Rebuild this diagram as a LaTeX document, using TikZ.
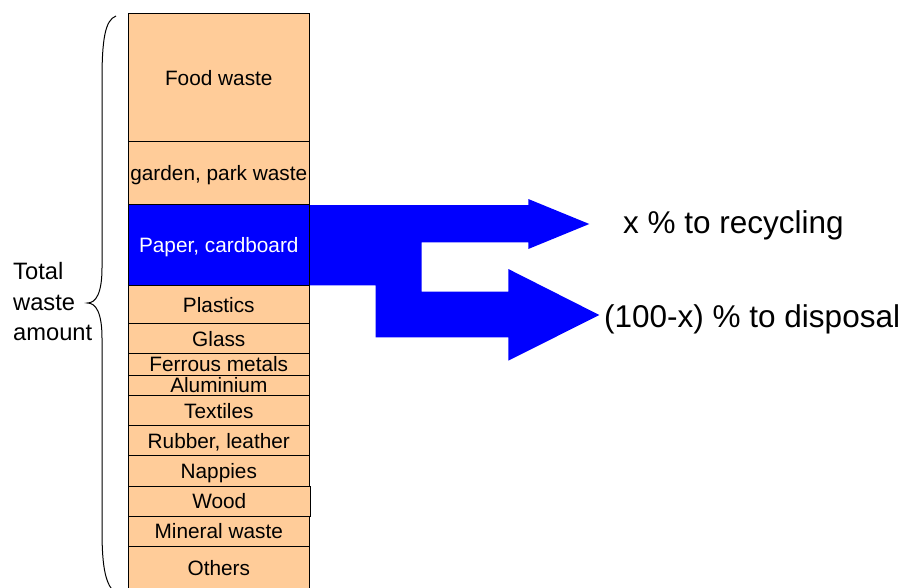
\documentclass[tikz,border=0pt]{standalone}
\usepackage{fontspec}
\setmainfont{Liberation Sans}
\definecolor{peach}{RGB}{255,204,153}
\definecolor{flowblue}{RGB}{0,0,255}
\begin{document}
\begin{tikzpicture}[x=1pt,y=-1pt,
  box/.style={draw=black, line width=0.9pt, fill=peach, minimum width=181pt,
    inner sep=0pt, outer sep=0pt, font=\fontsize{20.8}{24}\selectfont,
    text height=15.5pt, text depth=0pt},
  bluebox/.style={box, fill=flowblue, text=white},
  bigtext/.style={inner sep=0pt, anchor=base west, font=\fontsize{31.5}{36}\selectfont},
  sidetext/.style={inner sep=0pt, anchor=base west, font=\fontsize{23.7}{28}\selectfont}]
\useasboundingbox (0,0) rectangle (904,588);
% flow arrows
\fill[flowblue] (309,205) -- (528.3,205) -- (528.3,199) -- (589.3,224) -- (528.3,249)
  -- (528.3,242.3) -- (421.7,242.3) -- (421.7,291.7) -- (508.3,291.7) -- (508.3,269)
  -- (599.3,315) -- (508.3,360.7) -- (508.3,337.3) -- (375.7,337.3) -- (375.7,285.3)
  -- (309,285.3) -- cycle;
% stack
\node[box, minimum height=127.6pt] (food) at (218.8,77.5) {Food waste};
\node[box, minimum height=62.7pt] (garden) at (218.8,172.65) {garden, park waste};
\node[bluebox, minimum height=81.3pt] (paper) at (218.8,244.65) {Paper, cardboard};
\node[box, minimum height=38pt] (plastics) at (218.8,304.3) {Plastics};
\node[box, minimum height=30pt] (glass) at (218.8,338.3) {Glass};
\node[box, minimum height=21.7pt] (ferrous) at (218.8,364.15) {Ferrous metals};
\node[box, minimum height=20.3pt] (alu) at (218.8,385.15) {Aluminium};
\node[box, minimum height=30pt] (textiles) at (218.8,410.3) {Textiles};
\node[box, minimum height=30pt] (rubber) at (218.8,440.3) {Rubber, leather};
\node[box, minimum height=30.7pt] (nappies) at (218.8,470.65) {Nappies};
\node[box, minimum height=30pt, minimum width=182pt] (wood) at (219.3,501) {Wood};
\node[box, minimum height=30pt] (mineral) at (218.8,531) {Mineral waste};
\node[box, minimum height=44pt] (others) at (218.8,568) {Others};
% brace
\draw[line width=1pt] (116,16) .. controls (105,20) and (102,40) .. (102,80)
  -- (102,268) .. controls (102,293) and (96,303) .. (87.5,303)
  .. controls (96,303) and (102,313) .. (102,338)
  -- (102,530) .. controls (102,570) and (106,585) .. (116,594);
% labels
\node[sidetext] (total1) at (13,279.3) {Total};
\node[sidetext] (total2) at (13,310) {waste};
\node[sidetext] (total3) at (13,340) {amount};
\node[bigtext] (recycling) at (623,233.3) {x \% to recycling};
\node[bigtext] (disposal) at (604,327) {(100-x) \% to disposal};
\end{tikzpicture}
\end{document}
